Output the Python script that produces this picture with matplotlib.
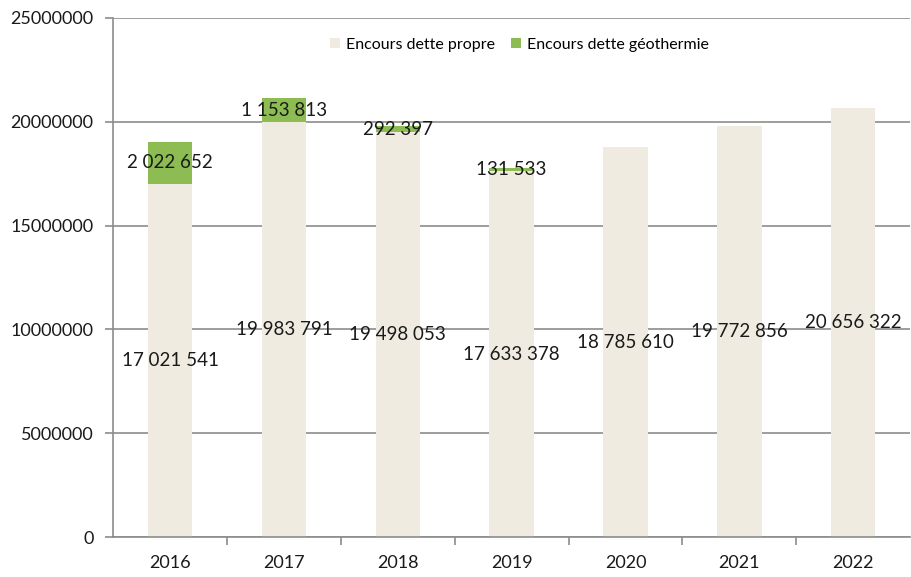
import matplotlib
matplotlib.use("Agg")
import matplotlib.pyplot as plt
import numpy as np

years = ["2016", "2017", "2018", "2019", "2020", "2021", "2022"]
propre = [17021541, 19983791, 19498053, 17633378, 18785610, 19772856, 20656322]
geo = [2022652, 1153813, 292397, 131533, 0, 0, 0]

def fmt(v):
    return f"{v:,}".replace(",", " ")

plt.rcParams['font.family'] = ['Lato', 'DejaVu Sans']

fig = plt.figure(figsize=(9.12, 5.77), dpi=100)
ax = fig.add_axes([0.124, 0.069, 0.874, 0.90])

x = np.arange(len(years))
w = 0.39
beige = "#EFEBE1"
green = "#8DBD52"
txt = "#1A1A1A"

ax.bar(x, propre, w, color=beige, label="Encours dette propre", zorder=2)
ax.bar(x, geo, w, bottom=propre, color=green, label="Encours dette géothermie", zorder=2)

for i in range(len(years)):
    ax.text(x[i], propre[i] / 2, fmt(propre[i]), ha="center", va="center",
            fontsize=13.5, color=txt, zorder=3)
    if geo[i] > 0:
        ax.text(x[i], propre[i] + geo[i] / 2, fmt(geo[i]), ha="center", va="center",
                fontsize=13.5, color=txt, zorder=3)

ax.set_xlim(-0.5, len(years) - 0.5)
ax.set_ylim(0, 25000000)
ax.set_yticks(np.arange(0, 25000001, 5000000))
ax.set_yticklabels([str(v) for v in range(0, 25000001, 5000000)])
ax.yaxis.grid(True, color="#8C8C8C", linewidth=1.2, zorder=1)
ax.set_axisbelow(True)

ax.set_xticks(x)
ax.set_xticklabels(years)
ax.set_xticks(np.arange(0.5, len(years) - 0.5, 1), minor=True)
ax.tick_params(axis="x", which="major", length=0, pad=13, labelsize=13, colors=txt)
ax.tick_params(axis="x", which="minor", length=6, color="#8C8C8C", width=1.2)
ax.tick_params(axis="y", length=6, color="#8C8C8C", width=1.2, labelsize=13,
               labelcolor=txt, pad=8)

for s in ["top", "right"]:
    ax.spines[s].set_visible(False)
for s in ["left", "bottom"]:
    ax.spines[s].set_color("#8C8C8C")
    ax.spines[s].set_linewidth(1.2)

ax.legend(loc="center", bbox_to_anchor=(0.51, 0.948), ncol=2, frameon=False,
          fontsize=11.5, handlelength=0.6, handleheight=0.6, handletextpad=0.4,
          columnspacing=1.0)

fig.savefig("out.png", dpi=100)
